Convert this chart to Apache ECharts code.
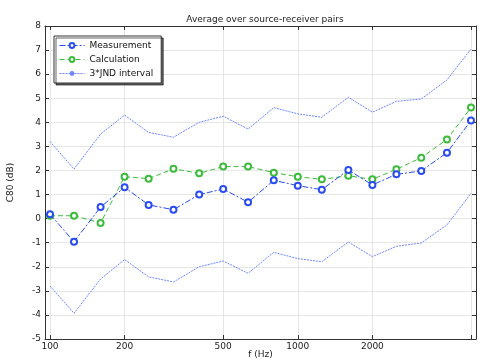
<!DOCTYPE html>
<html>
<head>
<meta charset="utf-8">
<script src="https://cdn.jsdelivr.net/npm/echarts@6/dist/echarts.min.js"></script>
<style>html,body{margin:0;padding:0;background:#fff}#c{width:482px;height:363px}</style>
</head>
<body>
<div id="c"></div>
<script>
var freqs = [100,125,160,200,250,315,400,500,630,800,1000,1250,1600,2000,2500,3150,4000,5000];
var measurement = [0.18,-0.96,0.48,1.30,0.57,0.37,1.00,1.23,0.68,1.59,1.37,1.20,2.02,1.40,1.84,1.98,2.74,4.07];
var calculation = [0.12,0.12,-0.18,1.74,1.66,2.07,1.88,2.16,2.16,1.91,1.74,1.63,1.78,1.63,2.05,2.53,3.29,4.61];
var jndUpper = [3.20,2.06,3.51,4.30,3.58,3.38,4.00,4.25,3.72,4.61,4.35,4.21,5.04,4.42,4.87,4.97,5.76,7.04];
var jndLower = [-2.80,-3.93,-2.51,-1.70,-2.42,-2.63,-2.00,-1.76,-2.27,-1.40,-1.66,-1.79,-0.97,-1.58,-1.15,-1.01,-0.26,1.05];
var xTicks = [100,200,500,1000,2000,5000];
var xLabels = [100,200,500,1000,2000];

var lg = function(v){return Math.log10(v);};
function pairs(vals){return freqs.map(function(f,i){return [lg(f), vals[i]];});}
var xMin = 1.9798, xMax = 3.7192;
var tickVals = xTicks.map(lg);
var labelVals = xLabels.map(lg);
var font = 'DejaVu Sans';
var axisCol = '#333';

var chart = echarts.init(document.getElementById('c'), null, {renderer:'canvas'});
chart.setOption({
  animation:false,
  backgroundColor:'#fff',
  textStyle:{fontFamily:font},
  title:{text:'Average over source-receiver pairs', left:260, top:10, textAlign:'center',
    textStyle:{fontSize:9, fontWeight:'normal', color:'#222', fontFamily:font}},
  grid:{left:45, right:6, top:26, bottom:24, containLabel:false, outerBoundsMode:'none'},
  legend:{
    orient:'vertical', left:54, top:36, itemWidth:25, itemHeight:6, itemGap:5,
    padding:[5,8,5,5], backgroundColor:'#fff', borderColor:'#333', borderWidth:1,
    shadowColor:'rgba(0,0,0,0.6)', shadowOffsetX:2, shadowOffsetY:2, shadowBlur:0,
    lineStyle:{width:1}, itemStyle:{borderWidth:1},
    textStyle:{fontSize:9, color:'#111', fontFamily:font},
    data:['Measurement','Calculation','3*JND interval']
  },
  xAxis:[{
    type:'value', min:xMin, max:xMax, name:'f (Hz)', nameLocation:'middle', nameGap:11,
    nameMoveOverlap:false,
    nameTextStyle:{fontSize:9, color:'#222'},
    axisLine:{show:true, onZero:false, lineStyle:{color:axisCol}},
    axisTick:{show:true, inside:true, length:4, customValues:tickVals, lineStyle:{color:axisCol}},
    axisLabel:{customValues:labelVals, fontSize:9, color:'#222', margin:3,
      formatter:function(v){return String(Math.round(Math.pow(10,v)));}},
    splitLine:{show:true, customValues:tickVals, lineStyle:{color:'#e6e6e6'}}
  },{
    type:'value', position:'top', min:xMin, max:xMax,
    axisLine:{show:true, onZero:false, lineStyle:{color:axisCol}},
    axisTick:{show:true, inside:true, length:4, customValues:tickVals, lineStyle:{color:axisCol}},
    axisLabel:{show:false}, splitLine:{show:false}
  }],
  yAxis:[{
    type:'value', min:-5, max:8, interval:1, name:'C80 (dB)', nameLocation:'middle', nameGap:30,
    nameMoveOverlap:false,
    nameTextStyle:{fontSize:9, color:'#222'},
    axisLine:{show:true, onZero:false, lineStyle:{color:axisCol}},
    axisTick:{show:true, inside:true, length:4, lineStyle:{color:axisCol}},
    axisLabel:{fontSize:9, color:'#222', margin:4},
    splitLine:{show:true, lineStyle:{color:'#e6e6e6'}}
  },{
    type:'value', position:'right', min:-5, max:8, interval:1,
    axisLine:{show:true, onZero:false, lineStyle:{color:axisCol}},
    axisTick:{show:true, inside:true, length:4, lineStyle:{color:axisCol}},
    axisLabel:{show:false}, splitLine:{show:false}
  }],
  series:[
    {name:'3*JND interval', type:'line', data:pairs(jndUpper), symbol:'none', z:1,
      lineStyle:{color:'#7088ff', width:1, type:[2,1]}, itemStyle:{color:'#7088ff'}},
    {name:'3*JND interval', type:'line', data:pairs(jndLower), symbol:'none', z:1,
      lineStyle:{color:'#7088ff', width:1, type:[2,1]}, itemStyle:{color:'#7088ff'}},
    {name:'Calculation', type:'line', data:pairs(calculation), symbol:'emptyCircle', symbolSize:6, z:2,
      lineStyle:{color:'#3dbb3d', width:1, type:[5,3]},
      itemStyle:{color:'#3dbb3d', borderColor:'#3dbb3d', borderWidth:1.1}},
    {name:'Measurement', type:'line', data:pairs(measurement), symbol:'emptyCircle', symbolSize:6, z:3,
      lineStyle:{color:'#2a4cf0', width:1, type:[6,2,2,2]},
      itemStyle:{color:'#2a4cf0', borderColor:'#2a4cf0', borderWidth:1.1}}
  ]
});
</script>
</body>
</html>
